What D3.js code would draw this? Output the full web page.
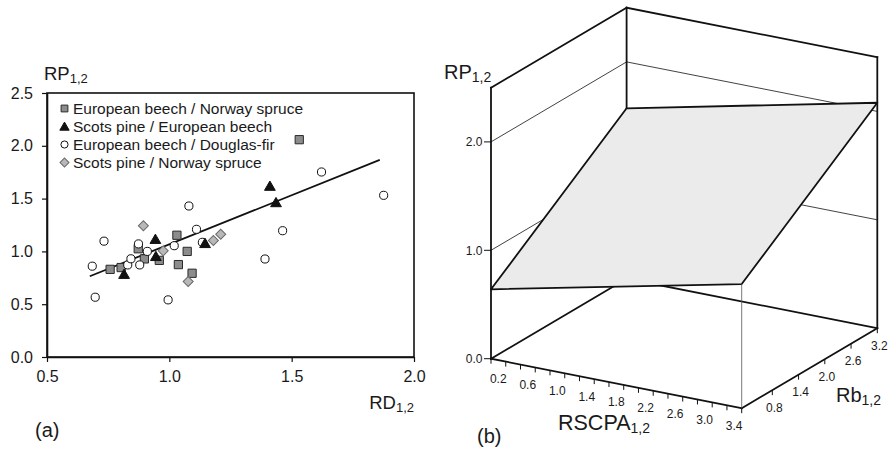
<!DOCTYPE html>
<html>
<head>
<meta charset="utf-8">
<script src="https://cdn.jsdelivr.net/npm/d3@7"></script>
<style>
  body { margin: 0; background: #fff; }
  text { font-family: "Liberation Sans", Arial, sans-serif; fill: #1a1a1a; }
</style>
</head>
<body>
<div id="viz"></div>
<script>
const width = 890;
const height = 454;

// ---- panel (a) data ----
const xTicks = [0.5, 1.0, 1.5, 2.0];
const yTicks = [0.0, 0.5, 1.0, 1.5, 2.0, 2.5];

const seriesNames = [
    "European beech / Norway spruce",
    "Scots pine / European beech",
    "European beech / Douglas-fir",
    "Scots pine / Norway spruce"
];

const beechSpruceRD = [0.758, 0.803, 0.873, 0.898, 0.959, 1.031, 1.037, 1.073, 1.093, 1.531];
const beechSpruceRP = [0.830, 0.847, 1.025, 0.929, 0.915, 1.153, 0.875, 1.000, 0.793, 2.058];

const pineBeechRD = [0.815, 0.943, 0.945, 1.146, 1.411, 1.436];
const pineBeechRP = [0.786, 1.117, 0.955, 1.078, 1.620, 1.465];

const beechDouglasRD = [0.685, 0.697, 0.733, 0.830, 0.843, 0.874, 0.879, 0.910, 0.995, 1.020, 1.080, 1.111, 1.135, 1.391, 1.463, 1.622, 1.876];
const beechDouglasRP = [0.860, 0.566, 1.097, 0.872, 0.930, 1.071, 0.872, 1.000, 0.541, 1.054, 1.430, 1.209, 1.086, 0.928, 1.196, 1.752, 1.531];

const pineSpruceRD = [0.894, 0.975, 1.077, 1.180, 1.210];
const pineSpruceRP = [1.243, 1.005, 0.715, 1.103, 1.163];

// fitted line end points
const regRD = [0.675, 1.860];
const regRP = [0.765, 1.866];

// ---- panel (b) data ----
const rscpaTicks = [0, 0.2, 0.4, 0.6, 0.8, 1.0, 1.2, 1.4, 1.6, 1.8, 2.0, 2.2, 2.4, 2.6, 2.8, 3.0, 3.2, 3.4];
const rscpaLabels = [0.2, 0.6, 1.0, 1.4, 1.8, 2.2, 2.6, 3.0, 3.4];
const rbTicks = [0.8, 1.4, 2.0, 2.6, 3.2];
const rpTicks = [0.0, 1.0, 2.0];
const rpGrid = [1.0, 2.0];
// plane corners: RSCPA, Rb, RP
const planeRSCPA = [0, 3.4, 3.4, 0];
const planeRb = [0.1, 0.1, 3.2, 3.2];
const planeRP = [0.64, 1.145, 2.08, 1.572];

const svg = d3.select('#viz')
    .append('svg')
        .attr('width', width)
        .attr('height', height);

// ================= panel (a) =================
const x = d3.scaleLinear().domain([0.5, 2.0]).range([47, 414]);
const y = d3.scaleLinear().domain([0, 2.5]).range([357, 93]);

const gA = svg.append('g');

// frame
gA.append('rect')
    .attr('x', x(0.5)).attr('y', y(2.5))
    .attr('width', x(2.0) - x(0.5)).attr('height', y(0) - y(2.5))
    .attr('fill', 'none').attr('stroke', '#111').attr('stroke-width', 1.6);

const yAxis = gA.append('g')
    .attr('transform', `translate(${x(0.5)},0)`)
    .call(d3.axisLeft(y).tickValues(yTicks).tickFormat(d3.format('.1f')).tickSize(5).tickPadding(9).tickSizeOuter(0));
const xAxis = gA.append('g')
    .attr('transform', `translate(0,${y(0)})`)
    .call(d3.axisBottom(x).tickValues(xTicks).tickFormat(d3.format('.1f')).tickSize(5).tickPadding(9).tickSizeOuter(0));

[yAxis, xAxis].forEach(a => {
    a.select('.domain').attr('stroke', '#111').attr('stroke-width', 1.6);
    a.selectAll('.tick line').attr('stroke', '#111').attr('stroke-width', 1.2);
    a.selectAll('.tick text').attr('font-size', 16).attr('fill', '#1a1a1a')
        .attr('font-family', '"Liberation Sans", Arial, sans-serif');
});

// regression line
gA.append('line')
    .attr('x1', x(regRD[0])).attr('y1', y(regRP[0]))
    .attr('x2', x(regRD[1])).attr('y2', y(regRP[1]))
    .attr('stroke', '#111').attr('stroke-width', 1.8);

const symSquare = d3.symbol().type(d3.symbolSquare).size(68);
const symCircle = d3.symbol().type(d3.symbolCircle).size(52);
const symTri = d3.symbol().type(d3.symbolTriangle).size(50);
const symDiamond = d3.symbol().type(d3.symbolSquare).size(50);

const styles = [
    { sym: symSquare, fill: '#8c8c8c', stroke: '#2a2a2a', rot: 0, dy: 0 },
    { sym: symTri, fill: '#111', stroke: '#111', rot: 0, dy: 1.3 },
    { sym: symCircle, fill: '#fff', stroke: '#111', rot: 0, dy: 0 },
    { sym: symDiamond, fill: '#b8b8b8', stroke: '#6a6a6a', rot: 45, dy: 0 }
];

function drawSeries(xs, ys, st) {
    gA.append('g').selectAll('path')
        .data(xs.map((d, i) => [d, ys[i]]))
        .join('path')
            .attr('d', st.sym())
            .attr('transform', d => `translate(${x(d[0])},${y(d[1]) + st.dy}) rotate(${st.rot})`)
            .attr('fill', st.fill)
            .attr('stroke', st.stroke)
            .attr('stroke-width', 1);
}

drawSeries(beechSpruceRD, beechSpruceRP, styles[0]);
drawSeries(beechDouglasRD, beechDouglasRP, styles[2]);
drawSeries(pineSpruceRD, pineSpruceRP, styles[3]);
drawSeries(pineBeechRD, pineBeechRP, styles[1]);

// legend
const legendSyms = [
    d3.symbol().type(d3.symbolSquare).size(46),
    d3.symbol().type(d3.symbolTriangle).size(38),
    d3.symbol().type(d3.symbolCircle).size(40),
    d3.symbol().type(d3.symbolSquare).size(40)
];
const legend = gA.append('g');
seriesNames.forEach((name, i) => {
    const ly = 108.5 + i * 18;
    legend.append('path')
        .attr('d', legendSyms[i]())
        .attr('transform', `translate(64.5,${ly + (i === 1 ? 1 : 0)}) rotate(${styles[i].rot})`)
        .attr('fill', styles[i].fill)
        .attr('stroke', styles[i].stroke)
        .attr('stroke-width', 1);
    legend.append('text')
        .attr('x', 73).attr('y', ly).attr('dy', '0.36em')
        .attr('font-size', 15.5)
        .text(name);
});

// axis titles
const rpA = gA.append('text').attr('x', 44).attr('y', 80).attr('font-size', 18.5);
rpA.append('tspan').text('RP');
rpA.append('tspan').attr('font-size', 13).attr('dy', 3).text('1,2');

const rdA = gA.append('text').attr('x', 414).attr('y', 409).attr('font-size', 18.5).attr('text-anchor', 'end');
rdA.append('tspan').text('RD');
rdA.append('tspan').attr('font-size', 13).attr('dy', 3).text('1,2');

gA.append('text').attr('x', 35).attr('y', 437).attr('font-size', 20).text('(a)');

// ================= panel (b) =================
const origin = [491, 358.7];
const sx = d3.scaleLinear().domain([0, 3.4]).range([0, 1]);
const sy = d3.scaleLinear().domain([0.1, 3.2]).range([0, 1]);
const sz = d3.scaleLinear().domain([0, 2.5]).range([0, 1]);
const vX = [250.7, 49.5];
const vY = [135.6, -80];
const vZ = [0, -271];

function proj(a, b, c) {
    const u = sx(a), v = sy(b), w = sz(c);
    return [origin[0] + u * vX[0] + v * vY[0] + w * vZ[0],
            origin[1] + u * vX[1] + v * vY[1] + w * vZ[1]];
}

const gB = svg.append('g');
const xMin = 0, xMax = 3.4, yMin = 0.1, yMax = 3.2, zMax = 2.5;

function seg(p, q, w, col) {
    const a = proj(...p), b = proj(...q);
    gB.append('line')
        .attr('x1', a[0]).attr('y1', a[1]).attr('x2', b[0]).attr('y2', b[1])
        .attr('stroke', col || '#111').attr('stroke-width', w)
        .attr('stroke-linecap', 'square');
}

// back structure (behind plane)
seg([xMin, yMin, 0], [xMin, yMax, 0], 1.8);
seg([xMin, yMax, 0], [xMax, yMax, 0], 1.8);
seg([xMin, yMax, 0], [xMin, yMax, zMax], 1.8);
seg([xMin, yMin, zMax], [xMin, yMax, zMax], 1.8);
seg([xMin, yMax, zMax], [xMax, yMax, zMax], 1.8);
seg([xMax, yMax, 0], [xMax, yMax, zMax], 1.8);
rpGrid.forEach(z => {
    seg([xMin, yMin, z], [xMin, yMax, z], 0.8);
    seg([xMin, yMax, z], [xMax, yMax, z], 0.8);
});

// fitted plane
const planePts = planeRSCPA.map((d, i) => proj(d, planeRb[i], planeRP[i]));
gB.append('path')
    .attr('d', d3.line()(planePts) + 'Z')
    .attr('fill', '#ebebeb')
    .attr('stroke', '#111')
    .attr('stroke-width', 1.8)
    .attr('stroke-linejoin', 'round');

// front edges
seg([xMin, yMin, 0], [xMin, yMin, zMax], 1.8);
seg([xMin, yMin, 0], [xMax, yMin, 0], 1.8);
seg([xMax, yMin, 0], [xMax, yMax, 0], 1.8);
seg([xMax, yMin, 0], [xMax, yMin, planeRP[1]], 0.8, '#555');

// RP ticks
rpTicks.forEach(t => {
    const p = proj(xMin, yMin, t);
    gB.append('line').attr('x1', p[0] - 7).attr('x2', p[0]).attr('y1', p[1]).attr('y2', p[1])
        .attr('stroke', '#111').attr('stroke-width', 1);
    gB.append('text').attr('x', p[0] - 8.5).attr('y', p[1]).attr('dy', '0.35em')
        .attr('text-anchor', 'end').attr('font-size', 12).text(d3.format('.1f')(t));
});

// RSCPA ticks
rscpaTicks.forEach(t => {
    const p = proj(t, yMin, 0);
    gB.append('line').attr('x1', p[0]).attr('x2', p[0]).attr('y1', p[1]).attr('y2', p[1] + 5)
        .attr('stroke', '#111').attr('stroke-width', 1);
});
rscpaLabels.forEach(t => {
    const p = proj(t, yMin, 0);
    gB.append('text').attr('x', p[0] - 7.5).attr('y', p[1] + 21.5)
        .attr('text-anchor', 'middle').attr('font-size', 12).text(d3.format('.1f')(t));
});

// Rb ticks
rbTicks.forEach(t => {
    const p = proj(xMax, t, 0);
    gB.append('line').attr('x1', p[0]).attr('x2', p[0]).attr('y1', p[1]).attr('y2', p[1] + 5)
        .attr('stroke', '#111').attr('stroke-width', 1);
    gB.append('text').attr('x', p[0] + 2).attr('y', p[1] + 21.5)
        .attr('text-anchor', 'middle').attr('font-size', 12).text(d3.format('.1f')(t));
});

// axis titles
const rpB = gB.append('text').attr('x', 444).attr('y', 79).attr('font-size', 20);
rpB.append('tspan').text('RP');
rpB.append('tspan').attr('font-size', 14).attr('dy', 3).text('1,2');

const rsB = gB.append('text').attr('x', 558).attr('y', 430).attr('font-size', 21.5);
rsB.append('tspan').text('RSCPA');
rsB.append('tspan').attr('font-size', 14).attr('dy', 3).text('1,2');

const rbB = gB.append('text').attr('x', 836).attr('y', 402).attr('font-size', 20);
rbB.append('tspan').text('Rb');
rbB.append('tspan').attr('font-size', 14).attr('dy', 3).text('1,2');

gB.append('text').attr('x', 477).attr('y', 443).attr('font-size', 20).text('(b)');
</script>
</body>
</html>
